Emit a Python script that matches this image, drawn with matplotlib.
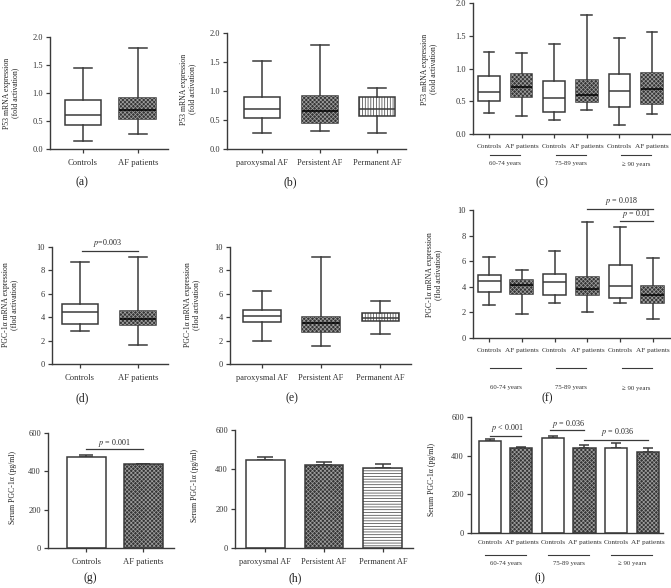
import matplotlib.pyplot as plt
import matplotlib.transforms as mtransforms
from matplotlib.patches import PathPatch

plt.rcParams['font.family'] = ['Liberation Serif', 'DejaVu Serif']
plt.rcParams['mathtext.fontset'] = 'stix'
plt.rcParams['hatch.linewidth'] = 0.5

EDGE = '#3a3a3a'
DARK = '#353535'
LIGHT = '#a0a0a0'

# ---------------- data ----------------
two_groups = ['Controls', 'AF patients']
af_types = ['paroxysmal AF', 'Persistent AF', 'Permanent AF']
age_groups = ['60-74 years', '75-89 years', '\u2265 90 years']
age_ticks = ['Controls', 'AF patients'] * 3

# (a) P53, controls vs AF
a_lo = [0.15, 0.27]
a_q1 = [0.43, 0.53]
a_med = [0.61, 0.69]
a_q3 = [0.88, 0.905]
a_hi = [1.44, 1.81]

# (b) P53 by AF type
b_lo = [0.27, 0.31, 0.27]
b_q1 = [0.53, 0.45, 0.57]
b_med = [0.69, 0.65, 0.69]
b_q3 = [0.90, 0.92, 0.90]
b_hi = [1.52, 1.80, 1.05]

# (c) P53 by age
c_lo = [0.32, 0.27, 0.21, 0.37, 0.14, 0.31]
c_q1 = [0.50, 0.56, 0.34, 0.49, 0.41, 0.46]
c_med = [0.64, 0.72, 0.55, 0.60, 0.66, 0.69]
c_q3 = [0.89, 0.92, 0.81, 0.83, 0.91, 0.93]
c_hi = [1.25, 1.23, 1.37, 1.81, 1.46, 1.55]

# (d) PGC-1a, controls vs AF
d_lo = [2.78, 1.64]
d_q1 = [3.40, 3.34]
d_med = [4.42, 3.82]
d_q3 = [5.10, 4.56]
d_hi = [8.73, 9.15]

# (e) PGC-1a by AF type
e_lo = [1.93, 1.56, 2.55]
e_q1 = [3.57, 2.72, 3.68]
e_med = [4.14, 3.54, 3.91]
e_q3 = [4.62, 4.05, 4.39]
e_hi = [6.23, 9.15, 5.38]

# (f) PGC-1a by age
f_lo = [2.60, 1.87, 2.73, 2.00, 2.73, 1.51]
f_q1 = [3.58, 3.43, 3.38, 3.38, 3.12, 2.73]
f_med = [4.49, 4.16, 4.36, 3.84, 4.08, 3.38]
f_q3 = [4.94, 4.55, 5.01, 4.75, 5.71, 4.08]
f_hi = [6.31, 5.32, 6.81, 9.09, 8.70, 6.23]

# (g)-(i) serum PGC-1a, mean and SEM
g_mean = [475, 437]
g_sem = [10, 3]
h_mean = [449, 422, 405]
h_sem = [12, 14, 21]
i_mean = [478, 440, 490, 440, 438, 421]
i_sem = [6, 3, 14, 16, 26, 21]

# ---------------- layout helpers ----------------
W, H = 671, 588
fig = plt.figure(figsize=(W / 100, H / 100), dpi=100)


def add_ax(x0, y0, x1, y1):
    return fig.add_axes([x0 / W, 1 - y1 / H, (x1 - x0) / W, (y1 - y0) / H])


def ftext(x, y, s, **kw):
    fig.text(x / W, 1 - y / H, s, ha='center', va='center', color='#222222', **kw)


def style(ax, xlim, ylim, yticks, yfmt, xsize):
    for s in ['top', 'right']:
        ax.spines[s].set_visible(False)
    for s in ['left', 'bottom']:
        ax.spines[s].set_color(EDGE)
        ax.spines[s].set_linewidth(1.0)
    ax.set_xlim(*xlim)
    ax.set_ylim(*ylim)
    ax.set_yticks(yticks)
    ax.set_yticklabels([yfmt.format(t) for t in yticks])
    ax.tick_params(direction='out', length=3, width=0.9, colors=EDGE,
                   labelcolor='#333333', labelsize=6, pad=2)
    ax.tick_params(axis='x', labelsize=xsize, pad=4)
    ax.patch.set_alpha(0)


def overlay(ax, patch):
    ov = PathPatch(patch.get_path(), transform=patch.get_transform(),
                   facecolor='none', edgecolor=LIGHT, hatch='xxxxxxxx', lw=0,
                   zorder=patch.get_zorder() + 0.01)
    ax.add_patch(ov)


def boxes(ax, lo, q1, med, q3, hi, kinds, width, labels):
    pos = list(range(len(lo)))
    stats = [dict(whislo=a, q1=b, med=c, q3=d, whishi=e, fliers=[])
             for a, b, c, d, e in zip(lo, q1, med, q3, hi)]
    lp = dict(color=EDGE, linewidth=1.1)
    bp = ax.bxp(stats, positions=pos, widths=width, patch_artist=True,
                showfliers=False,
                boxprops=dict(edgecolor=EDGE, facecolor='white', linewidth=1.1),
                medianprops=dict(color=EDGE, linewidth=1.1, zorder=3),
                whiskerprops=lp, capprops=lp)
    for box, kind, m in zip(bp['boxes'], kinds, bp['medians']):
        if kind == 'check':
            box.set_facecolor(DARK)
            overlay(ax, box)
            m.set_color('black')
        elif kind in ('vline', 'hline'):
            box.set_hatch('||||||' if kind == 'vline' else '------')
    ax.set_xticks(pos)
    ax.set_xticklabels(labels)


def bars(ax, vals, sem, kinds, width, labels, cap):
    pos = list(range(len(vals)))
    face = [DARK if k == 'check' else 'white' for k in kinds]
    ax.errorbar(pos, vals, yerr=[[0] * len(vals), sem], fmt='none',
                ecolor=EDGE, elinewidth=1.1, capsize=cap, capthick=1.1, zorder=1)
    fill = ax.bar(pos, vals, width, color=face, linewidth=0, zorder=2)
    for p, k in zip(fill, kinds):
        if k == 'check':
            overlay(ax, p)
        elif k == 'hline':
            p.set_hatch('------')
            p.set_edgecolor(EDGE)
    ax.bar(pos, vals, width, color='none', edgecolor=EDGE, linewidth=1.1, zorder=3)
    ax.set_xticks(pos)
    ax.set_xticklabels(labels)


def sig(ax, x0, x1, y, tx, ty, text):
    ax.plot([x0, x1], [y, y], color=EDGE, lw=0.9, clip_on=False)
    ax.text(tx, ty, text, ha='center', va='center', fontsize=5.8, color='#222222')


def group_lines(ax, half, yline, ylab):
    tr = mtransforms.blended_transform_factory(ax.transData, ax.transAxes)
    for g, lab in enumerate(age_groups):
        c = 2 * g + 0.5
        ax.plot([c - half, c + half], [yline, yline], color=EDGE, lw=0.8,
                transform=tr, clip_on=False)
        ax.text(c, ylab, lab, transform=tr, ha='center', va='center',
                fontsize=4.9, color='#333333')


p53_label = 'P53 mRNA expression\n(fold activation)'
pgc_label = 'PGC-1\u03b1 mRNA expression\n(flod activation)'
serum_label = 'Serum PGC-1\u03b1 (pg/ml)'

# ---------------- row 1 ----------------
ax = add_ax(50, 37, 168, 149)
boxes(ax, a_lo, a_q1, a_med, a_q3, a_hi, ['white', 'check'], 0.67, two_groups)
style(ax, (-0.6, 1.55), (0, 2.0), [0, 0.5, 1.0, 1.5, 2.0], '{:.1f}', 6.2)
ftext(11, 93, p53_label, fontsize=5.6, rotation=90, linespacing=1.1)
ftext(82, 182, '(a)', fontsize=8.5)

ax = add_ax(227, 33, 406, 149)
boxes(ax, b_lo, b_q1, b_med, b_q3, b_hi, ['white', 'check', 'vline'], 0.63, af_types)
style(ax, (-0.61, 2.5), (0, 2.0), [0, 0.5, 1.0, 1.5, 2.0], '{:.1f}', 6.0)
ftext(188, 89, p53_label, fontsize=5.6, rotation=90, linespacing=1.1)
ftext(290, 182, '(b)', fontsize=8.5)

ax = add_ax(473, 3, 670, 134)
boxes(ax, c_lo, c_q1, c_med, c_q3, c_hi, ['white', 'check'] * 3, 0.66, age_ticks)
style(ax, (-0.49, 5.55), (0, 2.0), [0, 0.5, 1.0, 1.5, 2.0], '{:.1f}', 5.2)
group_lines(ax, 0.46, -21 / 131, -30 / 131)
ftext(429, 69, p53_label, fontsize=5.6, rotation=90, linespacing=1.1)
ftext(542, 182, '(c)', fontsize=8.5)

# ---------------- row 2 ----------------
ax = add_ax(52, 247, 168, 364)
boxes(ax, d_lo, d_q1, d_med, d_q3, d_hi, ['white', 'check'], 0.63, two_groups)
style(ax, (-0.48, 1.52), (0, 10), [0, 2, 4, 6, 8, 10], '{:d}', 6.2)
sig(ax, 0.03, 1.0, 9.66, 0.47, 10.3, '$p$=0.003')
ftext(10, 305, pgc_label, fontsize=5.6, rotation=90, linespacing=1.1)
ftext(82, 398, '(d)', fontsize=8.5)

ax = add_ax(230, 247, 411, 364)
boxes(ax, e_lo, e_q1, e_med, e_q3, e_hi, ['white', 'check', 'vline'], 0.63, af_types)
style(ax, (-0.54, 2.52), (0, 10), [0, 2, 4, 6, 8, 10], '{:d}', 6.0)
ftext(192, 305, pgc_label, fontsize=5.6, rotation=90, linespacing=1.1)
ftext(292, 398, '(e)', fontsize=8.5)

ax = add_ax(473, 210, 671, 338)
boxes(ax, f_lo, f_q1, f_med, f_q3, f_hi, ['white', 'check'] * 3, 0.7, age_ticks)
style(ax, (-0.49, 5.55), (0, 10), [0, 2, 4, 6, 8, 10], '{:d}', 5.2)
sig(ax, 3, 5, 10.08, 4.05, 10.7, '$p$ = 0.018')
sig(ax, 4, 5, 9.14, 4.48, 9.65, '$p$ = 0.01')
group_lines(ax, 0.46, -30 / 128, -50 / 128)
ftext(434, 275, pgc_label, fontsize=5.6, rotation=90, linespacing=1.1)
ftext(547, 398, '(f)', fontsize=8.5)

# ---------------- row 3 ----------------
ax = add_ax(48, 433, 174, 548)
bars(ax, g_mean, g_sem, ['white', 'check'], 0.68, two_groups, 5)
style(ax, (-0.67, 1.54), (0, 600), [0, 200, 400, 600], '{:d}', 6.2)
sig(ax, 0, 1, 518, 0.5, 548, '$p$ = 0.001')
ftext(13, 488, serum_label, fontsize=5.6, rotation=90)
ftext(90, 578, '(g)', fontsize=8.5)

ax = add_ax(235, 430, 413, 548)
bars(ax, h_mean, h_sem, ['white', 'check', 'hline'], 0.66, af_types, 6)
style(ax, (-0.51, 2.51), (0, 600), [0, 200, 400, 600], '{:d}', 6.0)
ftext(195, 486, serum_label, fontsize=5.6, rotation=90)
ftext(295, 578, '(h)', fontsize=8.5)

ax = add_ax(471, 417, 663, 533)
bars(ax, i_mean, i_sem, ['white', 'check'] * 3, 0.7, age_ticks, 3.5)
style(ax, (-0.6, 5.49), (0, 600), [0, 200, 400, 600], '{:d}', 5.2)
ax.tick_params(axis='x', length=0, pad=5)
sig(ax, 0, 1, 504, 0.54, 542, '$p$ < 0.001')
sig(ax, 1.9, 3, 534, 2.5, 562, '$p$ = 0.036')
sig(ax, 3, 5, 482, 4.03, 521, '$p$ = 0.036')
group_lines(ax, 0.65, -22 / 116, -30 / 116)
ftext(432, 480, serum_label, fontsize=5.6, rotation=90)
ftext(540, 578, '(i)', fontsize=8.5)

fig.savefig('out.png', dpi=100)
